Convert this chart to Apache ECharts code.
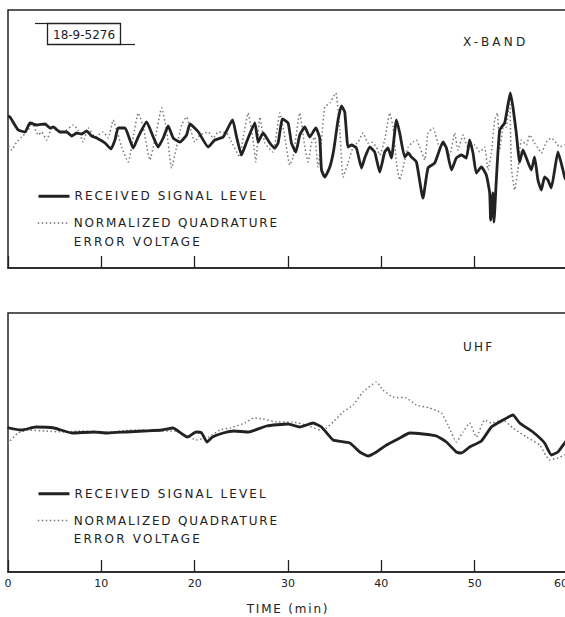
<!DOCTYPE html>
<html><head><meta charset="utf-8">
<script src="https://cdn.jsdelivr.net/npm/echarts@6/dist/echarts.min.js"></script>
<style>html,body{margin:0;padding:0;background:#fff}#c{width:565px;height:617px}</style>
</head><body><div id="c"></div>
<script>
// ---- data (time in minutes, level in arbitrary relative units) ----
const timeTicks = [0, 10, 20, 30, 40, 50, 60];
const signalName = 'RECEIVED SIGNAL LEVEL';
const quadName = 'NORMALIZED QUADRATURE ERROR VOLTAGE';
const panelTitles = ['X-BAND', 'UHF'];
const figureTag = '18-9-5276';
const axisTitle = 'TIME (min)';

const xbandSignal = [[0,152],[0.21,151],[1.10,138],[1.82,136],[2.36,145],[3.07,143],[3.96,144],[4.50,140],[4.85,141],[5.57,136],[6.28,136],[6.82,132],[7.36,135],[7.89,134],[8.43,137],[8.96,132],[9.50,130],[10.39,125],[11.03,119],[11.46,128],[11.81,140],[12.53,140],[13.06,128],[13.42,120],[13.95,131],[14.85,146],[15.56,131],[16.09,121],[16.63,130],[17.16,142],[17.70,130],[18.42,126],[19.13,133],[19.5,144],[20.4,136],[21.45,121],[22.16,128],[23.05,131],[24.06,148],[24.49,131],[25.02,113],[25.56,126],[26.45,145],[26.80,126],[27.33,135],[28.05,125],[28.59,120],[28.94,125],[29.41,149],[30.01,145],[30.37,125],[30.84,116],[31.26,133],[31.80,141],[32.33,131],[32.98,140],[33.40,130],[33.59,98],[33.94,91],[34.48,101],[34.90,118],[35.36,148],[35.73,162],[36.08,156],[36.43,121],[36.80,123],[37.33,120],[37.87,100],[38.22,110],[38.76,121],[39.29,116],[39.83,96],[40.36,116],[40.72,120],[41.08,110],[41.62,148],[41.97,135],[42.51,111],[42.88,115],[43.22,111],[43.76,106],[44.46,70],[45.00,100],[45.72,105],[46.61,126],[46.97,120],[47.51,98],[48.04,110],[48.58,113],[49.11,110],[49.46,128],[49.82,115],[50.18,95],[50.72,101],[51.25,93],[51.61,75],[51.71,48],[51.96,75],[52.07,46],[52.32,88],[52.68,138],[53.21,145],[53.56,163],[53.82,175],[54.10,161],[54.46,135],[54.82,106],[55.17,118],[55.54,110],[56.07,98],[56.42,111],[56.78,88],[57.14,78],[57.49,91],[57.85,88],[58.21,80],[58.57,98],[58.92,116],[59.46,98],[59.64,91],[60,85]];

const xbandQuadrature = [[0.05,122],[0.40,118],[0.93,126],[1.47,131],[2.17,138],[2.54,146],[3.24,133],[3.61,136],[4.14,128],[4.68,139],[5.39,138],[5.92,136],[6.99,143],[7.53,138],[8.06,126],[8.60,140],[9.31,131],[10.20,136],[10.74,130],[11.27,148],[11.64,138],[12.17,121],[12.88,106],[13.42,131],[13.95,155],[14.49,141],[15.20,108],[15.74,128],[16.46,160],[16.99,138],[17.53,100],[18.06,121],[18.60,143],[19.13,151],[19.49,141],[20.02,126],[20.56,133],[21.45,136],[21.98,130],[22.52,136],[23.42,135],[23.95,126],[24.84,111],[25.19,130],[25.73,155],[26.26,128],[26.55,106],[26.98,151],[27.52,125],[28.40,116],[29.12,155],[29.66,131],[30.19,103],[30.55,111],[31.26,155],[31.80,121],[32.15,106],[32.52,125],[32.87,131],[33.22,101],[33.59,128],[33.94,161],[34.48,165],[35.12,175],[35.55,138],[35.90,91],[36.43,105],[36.97,121],[37.51,126],[38.04,135],[38.58,125],[38.94,126],[39.47,121],[39.83,113],[40.36,128],[40.90,155],[41.25,141],[41.62,105],[41.97,88],[42.51,108],[42.88,121],[43.39,126],[43.76,128],[44.11,121],[44.65,108],[45.00,135],[45.54,140],[46.25,121],[46.79,123],[47.32,113],[47.86,135],[48.21,118],[48.75,133],[49.28,121],[50.00,123],[50.54,116],[51.07,121],[51.42,98],[51.79,115],[52.14,148],[52.43,155],[52.68,118],[53.03,140],[53.39,141],[53.75,170],[53.93,101],[54.28,78],[54.64,98],[55.00,128],[55.54,123],[55.89,133],[56.42,125],[56.78,120],[57.14,115],[57.68,126],[58.21,130],[58.75,125],[59.10,121],[59.64,123],[60,124]];

const uhfSignal = [[0,145],[0.11,144],[1.46,142],[3.00,145],[4.93,144],[6.85,139],[9.18,140],[10.71,139],[12.63,140],[14.56,141],[16.49,142],[17.67,144],[19.21,135],[20.17,140],[20.75,139],[21.33,130],[21.91,135],[23.06,139],[24.22,141],[25.76,140],[27.70,146],[30.01,148],[31.26,145],[32.69,149],[33.59,145],[34.83,132],[36.62,129],[37.69,120],[38.58,116],[39.48,120],[40.55,127],[41.97,134],[43.04,139],[44.46,138],[45.90,136],[46.97,130],[48.04,120],[48.58,119],[49.46,125],[50.72,131],[51.79,145],[52.68,150],[54.10,157],[54.82,149],[56.24,140],[57.49,129],[58.21,117],[58.92,120],[59.64,129],[60,133]];

const uhfQuadrature = [[0,128],[0.11,130],[1.07,139],[2.23,142],[4.0,141],[6.0,140],[8.0,141],[10.0,139],[12.0,141],[14.0,142],[16.0,141],[18.0,141],[19.01,137],[20.17,132],[21.52,135],[22.68,142],[23.83,144],[25.37,149],[26.34,154],[27.30,153],[28.85,150],[30.40,150],[31.94,147],[33.48,142],[34.12,144],[34.83,150],[35.90,160],[36.97,167],[38.04,180],[39.48,190],[40.18,182],[41.25,175],[42.69,174],[43.76,167],[45.18,164],[46.43,159],[47.14,147],[48.04,130],[48.75,140],[49.46,149],[50.18,135],[51.07,152],[51.79,149],[53.03,152],[54.10,144],[55.54,135],[56.96,127],[58.03,112],[58.92,114],[59.64,117],[60,119]];

// ---- styling ----
const FONT = 'DejaVu Sans';
const INK = '#222';
const DOT = '#777';

function xAxisFor(grid, showLabels) {
  return {
    type: 'value', gridIndex: grid, min: timeTicks[0], max: timeTicks[timeTicks.length - 1], interval: 10,
    axisLine: { show: true, lineStyle: { color: INK, width: 1.5 } },
    axisTick: { show: true, inside: true, length: 12, lineStyle: { color: INK, width: 1.3 } },
    splitLine: { show: false },
    axisLabel: { show: showLabels, color: INK, fontSize: 11, fontFamily: FONT, margin: 6, alignMaxLabel: 'right' },
    name: showLabels ? axisTitle : '', nameLocation: 'middle', nameGap: 31,
    nameTextStyle: { color: INK, fontSize: 12, fontFamily: FONT }
  };
}
function yAxisFor(grid, max) {
  return { type: 'value', gridIndex: grid, min: 0, max: max, show: false };
}
function signalSeries(idx, data) {
  return { name: signalName, type: 'line', xAxisIndex: idx, yAxisIndex: idx, data: data,
    symbol: 'none', showSymbol: false, smooth: 0.15, silent: true, z: 3,
    lineStyle: { color: INK, width: 2.8, join: 'round' }, itemStyle: { color: INK } };
}
function quadSeries(idx, data) {
  return { name: quadName, type: 'line', xAxisIndex: idx, yAxisIndex: idx, data: data,
    symbol: 'none', showSymbol: false, smooth: 0.15, silent: true, z: 2,
    lineStyle: { color: DOT, width: 1.5, type: [1.5, 2.5] }, itemStyle: { color: DOT } };
}
function legendFor(name, top, isQuad) {
  return {
    data: [name], left: 37, top: top, padding: 0, orient: 'vertical', selectedMode: false,
    itemWidth: 31, itemHeight: 14,
    // a leading blank line keeps the first text line level with the sample line
    formatter: n => n === quadName ? '\nNORMALIZED QUADRATURE\nERROR VOLTAGE' : n,
    itemStyle: { opacity: 0 },
    lineStyle: isQuad ? { width: 1.5, color: DOT, type: [1.5, 2.5] } : { width: 3, color: INK },
    textStyle: { color: INK, fontSize: 12, fontFamily: FONT, lineHeight: 18.5 }
  };
}
function titleAt(text, left, top, extra) {
  return Object.assign({ text: text, left: left, top: top, padding: 0,
    textStyle: { color: INK, fontSize: 12, fontWeight: 'normal', fontFamily: FONT, lineHeight: 14 } }, extra || {});
}

const chart = echarts.init(document.getElementById('c'), null, { renderer: 'svg' });
chart.setOption({
  animation: false,
  backgroundColor: '#fff',
  grid: [
    { left: 8, top: 10, width: 560, height: 258, show: true, borderColor: INK, borderWidth: 1.5, outerBoundsMode: 'none', containLabel: false },
    { left: 8, top: 313, width: 560, height: 259, show: true, borderColor: INK, borderWidth: 1.5, outerBoundsMode: 'none', containLabel: false }
  ],
  xAxis: [xAxisFor(0, false), xAxisFor(1, true)],
  yAxis: [yAxisFor(0, 258), yAxisFor(1, 259)],
  title: [
    titleAt(panelTitles[0], 463, 35),
    titleAt(panelTitles[1], 463, 340),
    titleAt(figureTag, 47, 23, { padding: [5, 6, 3, 6], borderColor: INK, borderWidth: 1.3 })
  ],
  legend: [
    legendFor(signalName, 187, false),
    legendFor(quadName, 195.25, true),
    legendFor(signalName, 484.5, false),
    legendFor(quadName, 492.75, true)
  ],
  graphic: [
    { type: 'line', shape: { x1: 35, y1: 23.5, x2: 48, y2: 23.5 }, style: { stroke: INK, lineWidth: 1.2 }, silent: true },
    { type: 'line', shape: { x1: 119, y1: 44.5, x2: 135, y2: 44.5 }, style: { stroke: INK, lineWidth: 1.2 }, silent: true }
  ],
  series: [
    quadSeries(0, xbandQuadrature), signalSeries(0, xbandSignal),
    quadSeries(1, uhfQuadrature), signalSeries(1, uhfSignal)
  ]
});

// lettering in the original is widely spaced
const spacing = { 'RECEIVED SIGNAL LEVEL': '2.1px', 'NORMALIZED QUADRATURE': '1.8px', 'ERROR VOLTAGE': '2.2px',
  'X-BAND': '3.2px', 'UHF': '2.2px', 'TIME (min)': '1.8px' };
function applySpacing() {
  document.querySelectorAll('#c svg text').forEach(t => {
    const s = spacing[(t.textContent || '').trim()];
    if (s) t.style.letterSpacing = s;
  });
}
chart.on('finished', applySpacing);
applySpacing();
setTimeout(applySpacing, 30);
setTimeout(applySpacing, 200);
</script>
</body></html>
